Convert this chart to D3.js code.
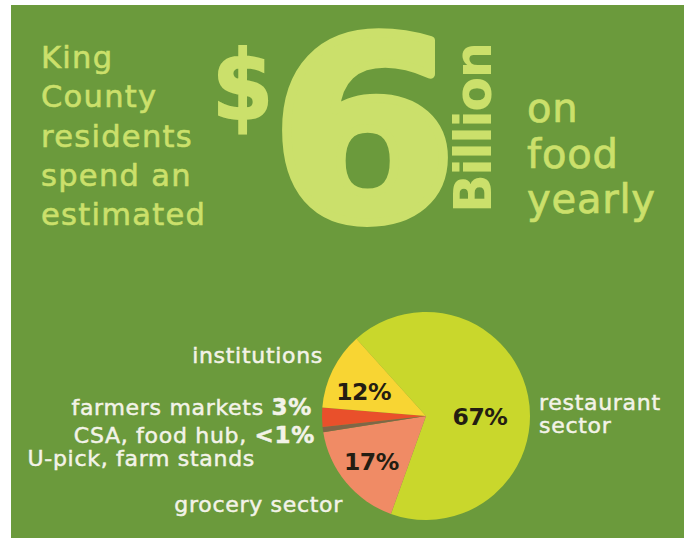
<!DOCTYPE html>
<html>
<head>
<meta charset="utf-8">
<script src="https://cdn.jsdelivr.net/npm/d3@7"></script>
<style>
  html, body { margin: 0; padding: 0; background: #fff; }
  svg { display: block; }
</style>
</head>
<body>
<div id="chart"></div>
<script>
// ---------------------------------------------------
// DATA — King County food spending by sector
// ---------------------------------------------------
const sectors = ["restaurant sector", "grocery sector", "CSA, food hub, U-pick, farm stands", "farmers markets", "institutions"];
const shares = [67, 17, 0.8, 3, 12];
const shareLabels = ["67%", "17%", "<1%", "3%", "12%"];
const sliceColors = ["#c9d72c", "#f08b65", "#7f6647", "#e9502b", "#f8d533"];

const headlineLeft = ["King", "County", "residents", "spend an", "estimated"];
const headlineRight = ["on", "food", "yearly"];

// ---------------------------------------------------
// SVG + BACKGROUND
// ---------------------------------------------------
const width = 684;
const height = 538;
const bg = "#6b9a3c";
const pale = "#cbe06b";
const labelWhite = "#f3f3e8";
const font = "'DejaVu Sans', sans-serif";

const svg = d3.select("#chart")
  .append("svg")
  .attr("width", width)
  .attr("height", height);

svg.append("rect")
  .attr("x", 11).attr("y", 5)
  .attr("width", width - 11).attr("height", height - 5)
  .attr("fill", bg);

// ---------------------------------------------------
// HEADLINE
// ---------------------------------------------------
const head = svg.append("g").attr("fill", pale).style("font-family", font);

head.selectAll(".left-line")
  .data(headlineLeft)
  .join("text")
  .attr("class", "left-line")
  .attr("x", 41)
  .attr("y", (d, i) => 68 + i * 39.3)
  .attr("font-size", 30.5)
  .attr("letter-spacing", 1.3)
  .attr("stroke", pale)
  .attr("stroke-width", 0.6)
  .text(d => d);

// big "$"
head.append("text")
  .attr("transform", "translate(212,119) scale(0.88,0.97)")
  .attr("font-size", 100)
  .attr("font-weight", "bold")
  .attr("stroke", pale)
  .attr("stroke-width", 2)
  .text("$");

// huge "6"
head.append("text")
  .attr("transform", "translate(270,219) scale(1.03,0.96)")
  .attr("font-size", 262)
  .attr("font-weight", "bold")
  .attr("stroke", pale)
  .attr("stroke-width", 9)
  .attr("stroke-linejoin", "round")
  .text("6");

// rotated "Billion"
head.append("text")
  .attr("transform", "translate(491,213) rotate(-90)")
  .attr("font-size", 51)
  .attr("font-weight", "bold")
  .attr("letter-spacing", -1.5)
  .text("Billion");

head.selectAll(".right-line")
  .data(headlineRight)
  .join("text")
  .attr("class", "right-line")
  .attr("x", 527)
  .attr("y", (d, i) => 122 + i * 45.5)
  .attr("font-size", 40)
  .attr("letter-spacing", 0.8)
  .attr("stroke", pale)
  .attr("stroke-width", 0.7)
  .text(d => d);

// ---------------------------------------------------
// PIE
// ---------------------------------------------------
const cx = 426, cy = 416, radius = 104;
const startAngle = -42 * Math.PI / 180;

const pie = d3.pie()
  .sort(null)
  .value(d => d)
  .startAngle(startAngle)
  .endAngle(startAngle + 2 * Math.PI);

const arcs = pie(shares);

const arc = d3.arc().innerRadius(0).outerRadius(radius);

const pieG = svg.append("g").attr("transform", `translate(${cx},${cy})`);

pieG.selectAll(".slice")
  .data(arcs)
  .join("path")
  .attr("class", "slice")
  .attr("fill", (d, i) => sliceColors[i])
  .attr("d", arc);

// percent labels inside the three large slices
const insideLabels = [
  { i: 0, r: 54, shift: 12 },
  { i: 1, r: 71, shift: 0 },
  { i: 4, r: 67, shift: -5 }
];

pieG.selectAll(".pct")
  .data(insideLabels)
  .join("text")
  .attr("class", "pct")
  .each(function (d) {
    const a = arcs[d.i];
    const mid = (a.startAngle + a.endAngle) / 2 + d.shift * Math.PI / 180;
    d3.select(this)
      .attr("x", d.r * Math.sin(mid))
      .attr("y", -d.r * Math.cos(mid));
  })
  .attr("dy", "0.36em")
  .attr("text-anchor", "middle")
  .attr("font-size", 23.5)
  .attr("font-weight", "bold")
  .attr("letter-spacing", -0.5)
  .attr("fill", "#241d12")
  .style("font-family", font)
  .text(d => shareLabels[d.i]);

// ---------------------------------------------------
// OUTSIDE LABELS
// ---------------------------------------------------
const lab = svg.append("g")
  .attr("fill", labelWhite)
  .attr("stroke", labelWhite)
  .attr("stroke-width", 0.5)
  .style("font-family", font)
  .attr("font-size", 22)
  .attr("letter-spacing", 0.7);

lab.append("text").attr("x", 323).attr("y", 363)
  .attr("text-anchor", "end").text(sectors[4]);

const fm = lab.append("text").attr("x", 312).attr("y", 415).attr("text-anchor", "end");
fm.append("tspan").text(sectors[3] + " ");
fm.append("tspan").attr("font-weight", "bold").attr("font-size", 23).text(shareLabels[3]);

const csa = lab.append("text").attr("x", 315).attr("y", 443).attr("text-anchor", "end");
csa.append("tspan").text("CSA, food hub, ");
csa.append("tspan").attr("font-weight", "bold").attr("font-size", 23).text(shareLabels[2]);

lab.append("text").attr("x", 255).attr("y", 466)
  .attr("text-anchor", "end").text("U-pick, farm stands");

lab.append("text").attr("x", 343).attr("y", 512)
  .attr("text-anchor", "end").text(sectors[1]);

lab.selectAll(".rest")
  .data(["restaurant", "sector"])
  .join("text")
  .attr("class", "rest")
  .attr("x", 539)
  .attr("y", (d, i) => 410 + i * 23)
  .text(d => d);
</script>
</body>
</html>
